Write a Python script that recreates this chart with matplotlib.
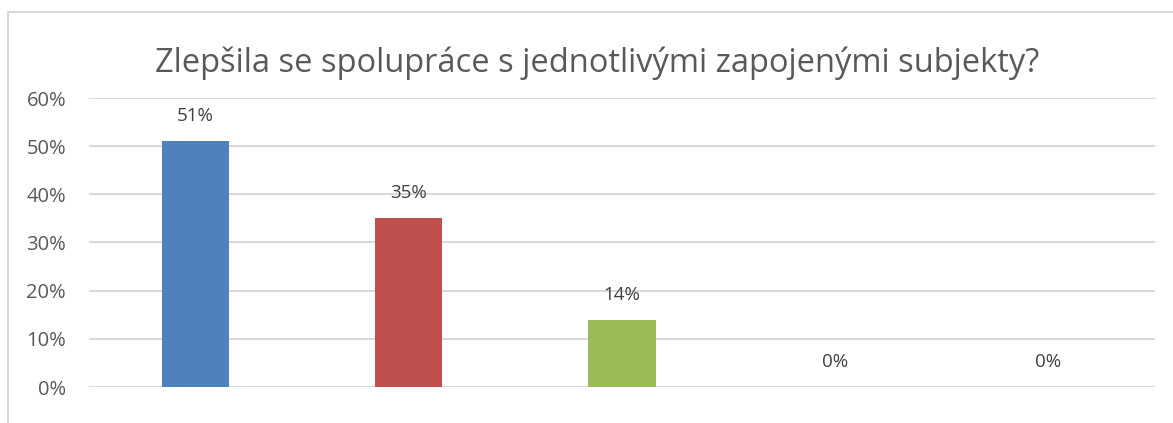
import matplotlib.pyplot as plt
from matplotlib.patches import Rectangle
from matplotlib.ticker import PercentFormatter

title = "Zlepšila se spolupráce s jednotlivými zapojenými subjekty?"
categories = ["A", "B", "C", "D", "E"]
values = [51, 35, 14, 0, 0]
colors = ["#4F81BD", "#C0504D", "#9BBB59", "#8064A2", "#4BACC6"]

plt.rcParams['font.family'] = ['Open Sans', 'DejaVu Sans']

fig = plt.figure(figsize=(11.73, 4.23), dpi=100)
ax = fig.add_axes([89 / 1173, 1 - 387 / 423, (1155 - 89) / 1173, (387 - 98) / 423])

# outer chart frame (partly cut off on the right and bottom)
fig.patches.append(Rectangle((8 / 1173, -0.1), 1.2, 1.1 - 12 / 423,
                             transform=fig.transFigure, fill=False,
                             edgecolor="#d9d9d9", linewidth=1.5))

x = range(len(categories))
ax.bar(x, values, width=0.315, color=colors, zorder=2)
for i, v in enumerate(values):
    ax.text(i, v + 5.2, f"{v}%", ha="center", va="center", fontsize=13.5, color="#404040")

ax.set_xlim(-0.5, len(categories) - 0.5)
ax.set_ylim(0, 60)
ax.set_yticks(range(0, 61, 10))
ax.yaxis.set_major_formatter(PercentFormatter(decimals=0))
ax.set_xticks([])
ax.tick_params(axis="y", length=0, pad=16.5, labelsize=14.5, labelcolor="#595959")
ax.grid(axis="y", color="#d9d9d9", linewidth=1.5, zorder=0)
for s in ax.spines.values():
    s.set_visible(False)

fig.text((155 + 1040) / 2 / 1173, 1 - 63 / 423, title, ha="center", va="center",
         fontsize=23.5, color="#595959")

fig.savefig("out.png", dpi=100)
